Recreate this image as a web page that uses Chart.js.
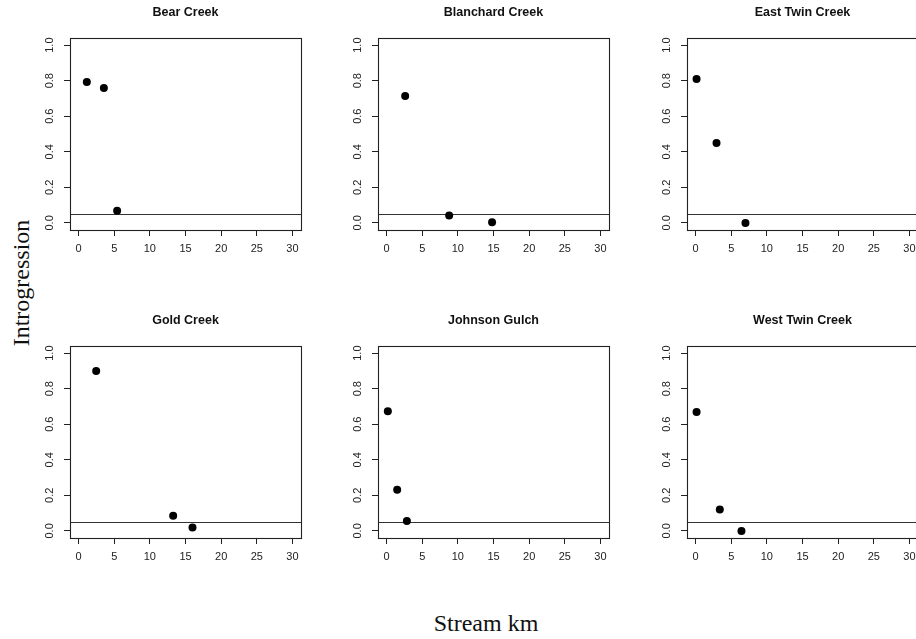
<!DOCTYPE html>
<html>
<head>
<meta charset="utf-8">
<script src="https://cdn.jsdelivr.net/npm/chart.js@4.4.0/dist/chart.umd.min.js"></script>
<style>
  html, body { margin:0; padding:0; background:#fff; width:916px; height:639px; overflow:hidden; position:relative; }
  canvas { position:absolute; }
  .lbl { position:absolute; font-family:"Liberation Serif","Times New Roman",serif; font-size:24px; color:#111; white-space:nowrap; }
</style>
</head>
<body>
<div class="lbl" id="ylab" style="left:21px; top:283px; transform:translate(-50%,-50%) rotate(-90deg);">Introgression</div>
<div class="lbl" id="xlab" style="left:486px; top:623px; transform:translate(-50%,-50%);">Stream km</div>
<script>
// ---- data ----
const panelTitles = ["Bear Creek", "Blanchard Creek", "East Twin Creek", "Gold Creek", "Johnson Gulch", "West Twin Creek"];
const bearKm = [1.16, 3.55, 5.41];
const bearIntro = [0.793, 0.759, 0.068];
const blanchardKm = [2.61, 8.78, 14.8];
const blanchardIntro = [0.714, 0.041, 0.003];
const eastTwinKm = [0.14, 2.94, 7.0];
const eastTwinIntro = [0.81, 0.449, 0.0];
const goldKm = [2.47, 13.27, 15.98];
const goldIntro = [0.900, 0.085, 0.019];
const johnsonKm = [0.18, 1.49, 2.85];
const johnsonIntro = [0.673, 0.231, 0.056];
const westTwinKm = [0.14, 3.4, 6.44];
const westTwinIntro = [0.669, 0.12, 0.0];
const xTicks = [0, 5, 10, 15, 20, 25, 30];
const yTicks = [0, 0.2, 0.4, 0.6, 0.8, 1.0];
const yTickLabels = ["0.0", "0.2", "0.4", "0.6", "0.8", "1.0"];
const threshold = 0.05;

const panelKm = [bearKm, blanchardKm, eastTwinKm, goldKm, johnsonKm, westTwinKm];
const panelIntro = [bearIntro, blanchardIntro, eastTwinIntro, goldIntro, johnsonIntro, westTwinIntro];

// ---- layout ----
const colLeft = [70, 378, 687];
const rowTop = [38, 346];
const boxW = 231, boxH = 192;
const padL = 60, padT = 40, padR = 10, padB = 40;
const sansFont = '"Liberation Sans", Arial, Helvetica, sans-serif';

const decorPlugin = {
  id: 'decor',
  beforeDatasetsDraw(chart) {
    const ctx = chart.ctx, a = chart.chartArea, ys = chart.scales.y;
    const yy = Math.round(ys.getPixelForValue(threshold)) + 0.5;
    ctx.save();
    ctx.strokeStyle = '#333';
    ctx.lineWidth = 1.1;
    ctx.beginPath();
    ctx.moveTo(a.left, yy);
    ctx.lineTo(a.right, yy);
    ctx.stroke();
    ctx.restore();
  },
  afterDraw(chart) {
    const ctx = chart.ctx, a = chart.chartArea, ys = chart.scales.y;
    ctx.save();
    ctx.strokeStyle = '#222';
    ctx.lineWidth = 1.1;
    ctx.strokeRect(Math.round(a.left) + 0.5, Math.round(a.top) + 0.5, Math.round(a.right - a.left), Math.round(a.bottom - a.top));
    // rotated y tick labels
    ctx.fillStyle = '#222';
    ctx.font = '11px ' + sansFont;
    ctx.textAlign = 'center';
    ctx.textBaseline = 'middle';
    yTicks.forEach((v, i) => {
      const y = ys.getPixelForValue(v);
      ctx.save();
      ctx.translate(a.left - 20, y);
      ctx.rotate(-Math.PI / 2);
      ctx.fillText(yTickLabels[i], 0, 0);
      ctx.restore();
    });
    // title
    ctx.fillStyle = '#111';
    ctx.font = 'bold 12.5px ' + sansFont;
    ctx.textBaseline = 'middle';
    ctx.fillText(chart.options.plugins.panelTitle, (a.left + a.right) / 2, a.top - 25);
    ctx.restore();
  }
};

for (let p = 0; p < 6; p++) {
  const col = p % 3, row = Math.floor(p / 3);
  const cv = document.createElement('canvas');
  const W = padL + boxW + padR, H = padT + boxH + padB;
  cv.width = W; cv.height = H;
  cv.style.width = W + 'px'; cv.style.height = H + 'px';
  cv.style.left = (colLeft[col] - padL) + 'px';
  cv.style.top = (rowTop[row] - padT) + 'px';
  document.body.appendChild(cv);

  const pts = panelKm[p].map((x, i) => ({ x: x, y: panelIntro[p][i] }));
  new Chart(cv, {
    type: 'scatter',
    data: {
      datasets: [{
        data: pts,
        pointRadius: 4,
        pointBackgroundColor: '#000',
        pointBorderColor: '#000',
        pointBorderWidth: 0,
        pointHoverRadius: 4
      }]
    },
    options: {
      responsive: false,
      animation: false,
      devicePixelRatio: 1,
      layout: { padding: { top: padT, right: padR, left: 0, bottom: 0 } },
      plugins: {
        legend: { display: false },
        tooltip: { enabled: false },
        title: { display: false },
        panelTitle: panelTitles[p]
      },
      scales: {
        x: {
          type: 'linear',
          min: -1.2, max: 31.2,
          afterBuildTicks: s => { s.ticks = xTicks.map(v => ({ value: v })); },
          afterFit: s => { s.height = padB; },
          grid: { display: true, drawOnChartArea: false, drawTicks: true, tickLength: 6, color: '#222', lineWidth: 1 },
          border: { display: false },
          ticks: {
            autoSkip: false, maxRotation: 0, minRotation: 0, padding: 6,
            color: '#222', font: { family: sansFont, size: 11 },
            callback: v => String(v)
          }
        },
        y: {
          type: 'linear',
          min: -0.04, max: 1.04,
          afterBuildTicks: s => { s.ticks = yTicks.map(v => ({ value: v })); },
          afterFit: s => { s.width = padL; },
          grid: { display: true, drawOnChartArea: false, drawTicks: true, tickLength: 6, color: '#222', lineWidth: 1 },
          border: { display: false },
          ticks: { color: 'rgba(0,0,0,0)', font: { family: sansFont, size: 11 } }
        }
      }
    },
    plugins: [decorPlugin]
  });
}
</script>
</body>
</html>
